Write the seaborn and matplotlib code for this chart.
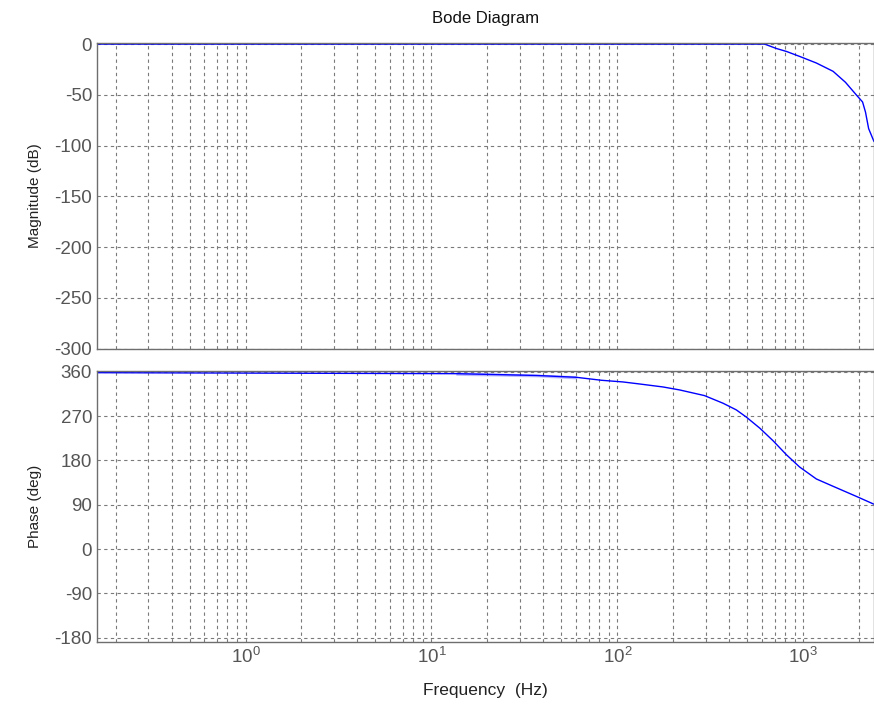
import numpy as np
import pandas as pd
import matplotlib
matplotlib.use("Agg")
import matplotlib.pyplot as plt
import seaborn as sns

# values
mag_freq = [0.159, 620, 716, 811, 955, 1175, 1446, 1685, 1927, 2083, 2160, 2246, 2400]
mag_db = [0.0, 0.0, -4.3, -7.2, -12.1, -18.6, -26.8, -37.6, -50.0, -57.0, -67.0, -83.3, -96.0]

phase_freq = [0.159, 13.6, 13.6, 36.8, 36.8, 60, 60, 82, 107, 132, 176, 216, 294, 370,
              436, 494, 583, 687, 811, 955, 1175, 1446, 1927, 2400]
phase_deg = [358.0, 358.0, 354.0, 354.0, 350.7, 350.7, 346.6, 342.6, 339.2, 335.0, 329.0,
             323.0, 311.5, 296.0, 282.5, 267.8, 245.5, 220.0, 191.5, 166.6, 142.3, 127.4,
             107.0, 91.0]

mag_ticks = [0, -50, -100, -150, -200, -250, -300]
phase_ticks = [360, 270, 180, 90, 0, -90, -180]

sns.set_style("white")
plt.rcParams['font.family'] = ['Liberation Sans', 'DejaVu Sans']
plt.rcParams['axes.unicode_minus'] = False
plt.rcParams['mathtext.fontset'] = 'custom'
plt.rcParams['mathtext.rm'] = 'Liberation Sans'

fig = plt.figure(figsize=(8.74, 7.15), dpi=100)
ax1 = fig.add_axes([0.111, 0.5125, 0.889, 0.4275])
ax2 = fig.add_axes([0.111, 0.1025, 0.889, 0.378])

df_mag = pd.DataFrame({'f': mag_freq, 'v': mag_db})
df_ph = pd.DataFrame({'f': phase_freq, 'v': phase_deg})

sns.lineplot(data=df_mag, x='f', y='v', ax=ax1, color='#0000ff', lw=1.0, sort=False)
sns.lineplot(data=df_ph, x='f', y='v', ax=ax2, color='#0000ff', lw=1.0, sort=False)

for ax in (ax1, ax2):
    ax.set_xscale('log')
    ax.set_xlim(0.159, 2400)
    ax.grid(True, which='both', linestyle=(0, (3, 3)), color='#7a7a7a', lw=0.8)
    for s in ax.spines.values():
        s.set_color('#6e6e6e')
        s.set_linewidth(1.0)
    ax.tick_params(which='both', direction='in', colors='#6e6e6e', labelcolor='#555555',
                   labelsize=13.5, length=4)
    ax.tick_params(which='minor', length=2)
    ax.set_xlabel('')

ax1.set_ylim(-300, 1.2)
ax1.set_yticks(mag_ticks)
ax1.tick_params(labelbottom=False)
ax1.set_ylabel('Magnitude (dB)', fontsize=11, color='#222222', labelpad=9)
ax1.set_title('Bode Diagram', fontsize=12, color='#111111', pad=14)

ax2.set_ylim(-188, 360.5)
ax2.set_yticks(phase_ticks)
ax2.set_ylabel('Phase (deg)', fontsize=11, color='#222222', labelpad=9)
ax2.set_xlabel('Frequency  (Hz)', fontsize=12.5, color='#222222', labelpad=12)

fig.align_ylabels([ax1, ax2])
fig.savefig('out.png', dpi=100)
